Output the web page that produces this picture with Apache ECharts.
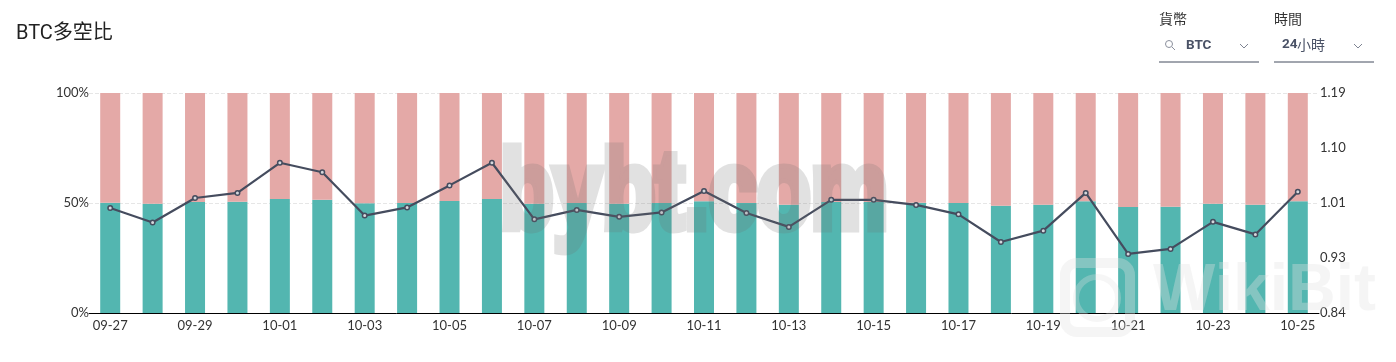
<!DOCTYPE html>
<html>
<head>
<meta charset="utf-8">
<script src="https://cdn.jsdelivr.net/npm/echarts@6/dist/echarts.min.js"></script>
<style>
html, body { margin: 0; padding: 0; background: #fff; }
#main { width: 1396px; height: 362px; }
/* layer of the bybt watermark (zlevel 1): drawn solid, faded as a whole */
#main canvas:nth-of-type(2) { opacity: 0.2; }
</style>
</head>
<body>
<div id="main"></div>
<script>
var dates = ['09-27','09-28','09-29','09-30','10-01','10-02','10-03','10-04','10-05','10-06',
  '10-07','10-08','10-09','10-10','10-11','10-12','10-13','10-14','10-15','10-16',
  '10-17','10-18','10-19','10-20','10-21','10-22','10-23','10-24','10-25'];
var longPct = [50.1,49.7,50.5,50.6,51.8,51.5,49.9,50.0,50.9,51.8,
  49.7,50.0,49.7,50.0,50.8,50.0,49.2,50.5,50.5,50.1,
  50.0,48.8,49.2,50.8,48.2,48.3,49.7,49.2,50.8];
var shortPct = [49.9,50.3,49.5,49.4,48.2,48.5,50.1,50.0,49.1,48.2,
  50.3,50.0,50.3,50.0,49.2,50.0,50.8,49.5,49.5,49.9,
  50.0,51.2,50.8,49.2,51.8,51.7,50.3,50.8,49.2];
var ratio = [1.007,0.984,1.023,1.031,1.079,1.064,0.995,1.008,1.043,1.079,
  0.989,1.004,0.993,1.000,1.034,0.999,0.977,1.020,1.020,1.012,
  0.997,0.953,0.971,1.031,0.934,0.942,0.985,0.965,1.033];
var ratioTicks = ['0.84','0.93','1.01','1.10','1.19'];

var font = 'Lato, "Noto Sans CJK TC", sans-serif';
var head = 'Roboto, "Noto Sans CJK TC", sans-serif';
var cjk = '"Noto Sans CJK TC", sans-serif';

var mychart = echarts.init(document.getElementById('main'), null, {renderer: 'canvas'});
mychart.setOption({
  animation: false,
  grid: {left: 89, right: 77, top: 93, bottom: 49},
  xAxis: {
    type: 'category',
    data: dates,
    axisTick: {show: false},
    axisLine: {lineStyle: {color: '#000', width: 1}},
    axisLabel: {interval: 1, color: '#333', fontSize: 13, fontFamily: font, margin: 6, hideOverlap: false}
  },
  yAxis: [
    {
      type: 'value', min: 0, max: 100, interval: 50,
      axisLine: {show: false}, axisTick: {show: false},
      axisLabel: {formatter: '{value}%', color: '#333', fontSize: 13, fontFamily: font, margin: 0},
      splitLine: {lineStyle: {color: '#e6e6e6', type: 'dashed'}}
    },
    {
      type: 'value', min: 0.84, max: 1.19, interval: 0.0875,
      axisLine: {show: false}, axisTick: {show: false},
      axisLabel: {
        color: '#333', fontSize: 13, fontFamily: font, margin: 1,
        formatter: function (v) { return ratioTicks[Math.round((v - 0.84) / 0.0875)]; }
      },
      splitLine: {show: false}
    }
  ],
  series: [
    {
      name: '多', type: 'bar', stack: 'ls', data: longPct, barWidth: 20,
      itemStyle: {color: '#53b6b0'}, z: 2
    },
    {
      name: '空', type: 'bar', stack: 'ls', data: shortPct, barWidth: 20,
      itemStyle: {color: '#e4a9a7'}, z: 2
    },
    {
      name: '多空比', type: 'line', yAxisIndex: 1, data: ratio, z: 3,
      symbol: 'circle', symbolSize: 4.5,
      lineStyle: {color: '#454c5e', width: 2.2},
      itemStyle: {color: '#d5d7dc', borderColor: '#454c5e', borderWidth: 1.5}
    }
  ],
  graphic: [
    // watermarks sit over the bars
    {type: 'text', zlevel: 1, silent: true, x: 500, y: 141, scaleX: 0.78, scaleY: 1,
      style: {text: 'bybt.com', font: 'bold 112px "Liberation Sans", sans-serif', fill: '#6e6e6e',
        stroke: '#6e6e6e', lineWidth: 9, lineJoin: 'round'}},
    {type: 'rect', zlevel: 2, silent: true, shape: {x: 1065, y: 263, width: 65, height: 69, r: 12},
      style: {fill: 'none', stroke: 'rgba(225,225,225,0.35)', lineWidth: 10}},
    {type: 'circle', zlevel: 2, silent: true, shape: {cx: 1097, cy: 298, r: 21},
      style: {fill: 'none', stroke: 'rgba(225,225,225,0.3)', lineWidth: 6}},
    {type: 'text', zlevel: 2, silent: true, x: 1153, y: 259,
      style: {text: 'WikiBit', font: 'bold 66px "Liberation Sans", sans-serif', fill: 'rgba(225,225,225,0.35)'}},
    // header
    {type: 'text', left: 16, top: 24,
      style: {text: 'BTC多空比', font: '20px ' + head, fill: '#222'}},
    {type: 'text', left: 1159, top: 12,
      style: {text: '貨幣', font: '14px ' + cjk, fill: '#333'}},
    {type: 'text', left: 1274, top: 12,
      style: {text: '時間', font: '14px ' + cjk, fill: '#333'}},
    {type: 'circle', shape: {cx: 1169, cy: 44, r: 3.5}, style: {fill: 'none', stroke: '#8a8f9c', lineWidth: 1}},
    {type: 'line', shape: {x1: 1172, y1: 47, x2: 1175, y2: 50}, style: {stroke: '#8a8f9c', lineWidth: 1}},
    {type: 'text', left: 1186, top: 39,
      style: {text: 'BTC', font: 'bold 13.5px Roboto, sans-serif', fill: '#4a5266'}},
    {type: 'text', left: 1282, top: 38,
      style: {text: '24', font: 'bold 13.5px Roboto, sans-serif', fill: '#4a5266'}},
    {type: 'text', left: 1297, top: 38,
      style: {text: '小時', font: '14px ' + cjk, fill: '#4a5266'}},
    {type: 'polyline', shape: {points: [[1240, 44], [1244, 48], [1248, 44]]}, style: {fill: 'none', stroke: '#7e8492', lineWidth: 1}},
    {type: 'polyline', shape: {points: [[1354, 44], [1358, 48], [1362, 44]]}, style: {fill: 'none', stroke: '#7e8492', lineWidth: 1}},
    {type: 'line', shape: {x1: 1159, y1: 62, x2: 1259, y2: 62}, style: {stroke: '#454c5e', lineWidth: 1}},
    {type: 'line', shape: {x1: 1274, y1: 62, x2: 1374, y2: 62}, style: {stroke: '#454c5e', lineWidth: 1}}
  ]
});
</script>
</body>
</html>
